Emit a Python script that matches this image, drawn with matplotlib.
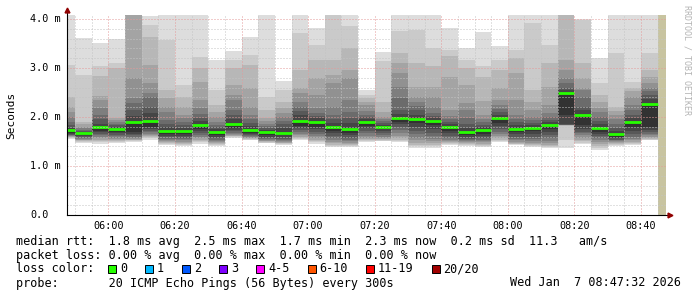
import matplotlib
matplotlib.use("Agg")
import matplotlib.pyplot as plt
from matplotlib import transforms
from matplotlib.patches import Rectangle

# graph time span and the part with no data yet
graph_start = "05:47:32"
graph_end = "08:47:32"
unknown_start = "08:45:00"

# end time of every 5 minute step
bar_end_times = [
    "05:50", "05:55", "06:00", "06:05", "06:10", "06:15", "06:20", "06:25", "06:30",
    "06:35", "06:40", "06:45", "06:50", "06:55", "07:00", "07:05", "07:10", "07:15",
    "07:20", "07:25", "07:30", "07:35", "07:40", "07:45", "07:50", "07:55", "08:00",
    "08:05", "08:10", "08:15", "08:20", "08:25", "08:30", "08:35", "08:40", "08:45",
]

# median rtt per step (ms)
median_ms = [
    1.73, 1.68, 1.80, 1.76, 1.89, 1.92, 1.72, 1.71, 1.84, 1.70, 1.85, 1.73,
    1.69, 1.68, 1.92, 1.90, 1.80, 1.75, 1.90, 1.80, 1.98, 1.96, 1.92, 1.80,
    1.69, 1.73, 1.97, 1.76, 1.78, 1.83, 2.48, 2.05, 1.78, 1.65, 1.90, 2.26,
]

# 20 sorted ping times per step (ms)
pings_ms = [
    [1.56, 1.58, 1.59, 1.60, 1.61, 1.62, 1.63, 1.64, 1.65, 1.67, 1.73, 1.78, 1.84, 1.90, 2.00, 2.11, 2.21, 2.41, 3.06, 4.40],
    [1.46, 1.48, 1.50, 1.52, 1.54, 1.56, 1.58, 1.60, 1.62, 1.64, 1.68, 1.70, 1.72, 1.74, 1.77, 1.80, 1.85, 1.90, 2.86, 3.61],
    [1.45, 1.48, 1.51, 1.54, 1.57, 1.60, 1.63, 1.66, 1.69, 1.72, 1.80, 1.86, 1.95, 2.05, 2.18, 2.35, 2.43, 2.84, 3.03, 3.50],
    [1.46, 1.48, 1.50, 1.53, 1.56, 1.58, 1.61, 1.64, 1.67, 1.70, 1.76, 1.80, 1.83, 1.86, 1.90, 1.93, 1.98, 3.00, 3.10, 3.60],
    [1.48, 1.50, 1.52, 1.54, 1.56, 1.58, 1.60, 1.63, 1.66, 1.70, 1.89, 2.02, 2.14, 2.28, 2.38, 2.79, 4.20, 4.30, 4.40, 4.60],
    [1.54, 1.57, 1.60, 1.62, 1.64, 1.66, 1.69, 1.72, 1.76, 1.80, 1.92, 2.08, 2.21, 2.40, 2.49, 2.69, 3.05, 3.64, 3.88, 4.05],
    [1.43, 1.45, 1.47, 1.49, 1.51, 1.53, 1.56, 1.59, 1.62, 1.66, 1.72, 1.80, 1.86, 1.94, 2.10, 2.21, 2.39, 2.55, 3.57, 4.30],
    [1.41, 1.43, 1.45, 1.47, 1.49, 1.52, 1.55, 1.58, 1.61, 1.65, 1.71, 1.78, 1.84, 1.90, 1.97, 2.04, 2.20, 2.41, 2.65, 4.30],
    [1.45, 1.48, 1.51, 1.54, 1.57, 1.60, 1.64, 1.68, 1.72, 1.76, 1.84, 1.92, 1.97, 2.06, 2.18, 2.35, 2.72, 3.00, 3.23, 4.30],
    [1.41, 1.43, 1.45, 1.47, 1.49, 1.51, 1.54, 1.57, 1.60, 1.64, 1.70, 1.76, 1.80, 1.84, 1.90, 2.00, 2.10, 2.24, 2.55, 3.16],
    [1.58, 1.60, 1.61, 1.62, 1.64, 1.66, 1.68, 1.71, 1.74, 1.78, 1.85, 1.96, 2.04, 2.14, 2.35, 2.45, 2.65, 3.00, 3.16, 3.35],
    [1.53, 1.54, 1.55, 1.57, 1.58, 1.60, 1.61, 1.63, 1.65, 1.68, 1.73, 1.82, 1.88, 1.96, 2.05, 2.21, 2.59, 3.06, 3.27, 3.64],
    [1.46, 1.47, 1.48, 1.50, 1.51, 1.53, 1.55, 1.57, 1.60, 1.64, 1.69, 1.74, 1.78, 1.82, 1.86, 1.92, 1.98, 2.14, 2.40, 4.30],
    [1.43, 1.44, 1.46, 1.47, 1.49, 1.51, 1.53, 1.56, 1.59, 1.63, 1.68, 1.78, 1.85, 1.92, 2.00, 2.08, 2.18, 2.30, 2.55, 2.73],
    [1.53, 1.55, 1.57, 1.60, 1.63, 1.66, 1.70, 1.74, 1.78, 1.82, 1.92, 2.05, 2.12, 2.21, 2.30, 2.49, 2.60, 2.96, 3.71, 4.30],
    [1.45, 1.48, 1.51, 1.54, 1.58, 1.62, 1.66, 1.70, 1.75, 1.80, 1.90, 1.97, 2.02, 2.08, 2.18, 2.45, 2.80, 3.16, 3.47, 3.81],
    [1.39, 1.41, 1.43, 1.46, 1.49, 1.53, 1.57, 1.62, 1.67, 1.72, 1.80, 1.88, 1.95, 2.05, 2.21, 2.70, 2.86, 3.16, 4.20, 4.40],
    [1.39, 1.41, 1.43, 1.45, 1.47, 1.50, 1.54, 1.58, 1.63, 1.68, 1.75, 1.88, 1.98, 2.10, 2.35, 2.80, 2.96, 3.40, 3.85, 4.30],
    [1.48, 1.50, 1.52, 1.55, 1.58, 1.62, 1.67, 1.72, 1.77, 1.82, 1.90, 1.96, 2.00, 2.04, 2.12, 2.24, 2.30, 2.38, 2.45, 2.55],
    [1.50, 1.51, 1.53, 1.55, 1.57, 1.60, 1.63, 1.67, 1.71, 1.75, 1.80, 1.84, 1.87, 1.91, 1.95, 2.00, 2.10, 2.31, 3.15, 3.33],
    [1.48, 1.50, 1.53, 1.57, 1.62, 1.68, 1.74, 1.80, 1.85, 1.90, 1.98, 2.06, 2.14, 2.39, 2.62, 2.90, 3.10, 3.30, 3.76, 4.30],
    [1.37, 1.40, 1.43, 1.47, 1.52, 1.58, 1.65, 1.72, 1.80, 1.88, 1.96, 2.05, 2.14, 2.22, 2.31, 2.40, 2.62, 3.10, 3.78, 4.30],
    [1.37, 1.40, 1.43, 1.46, 1.50, 1.55, 1.61, 1.68, 1.76, 1.84, 1.92, 1.98, 2.02, 2.08, 2.21, 2.40, 2.62, 3.03, 3.40, 4.30],
    [1.42, 1.44, 1.46, 1.48, 1.51, 1.54, 1.58, 1.62, 1.67, 1.72, 1.80, 1.86, 1.90, 1.96, 2.02, 2.14, 2.82, 3.25, 3.37, 3.81],
    [1.41, 1.42, 1.44, 1.46, 1.48, 1.50, 1.53, 1.56, 1.59, 1.63, 1.69, 1.78, 1.86, 1.98, 2.14, 2.28, 2.65, 3.00, 3.16, 3.40],
    [1.39, 1.41, 1.43, 1.45, 1.48, 1.51, 1.54, 1.58, 1.62, 1.66, 1.73, 1.80, 1.84, 1.89, 1.96, 2.04, 2.33, 2.82, 3.04, 3.73],
    [1.49, 1.51, 1.54, 1.57, 1.61, 1.65, 1.70, 1.76, 1.82, 1.88, 1.97, 2.05, 2.10, 2.16, 2.24, 2.35, 2.59, 2.96, 3.16, 3.45],
    [1.43, 1.44, 1.45, 1.47, 1.49, 1.52, 1.56, 1.60, 1.65, 1.70, 1.76, 1.84, 1.90, 1.96, 2.04, 2.35, 2.90, 3.20, 3.37, 4.30],
    [1.39, 1.40, 1.42, 1.44, 1.47, 1.51, 1.55, 1.60, 1.66, 1.72, 1.78, 1.84, 1.88, 1.93, 2.00, 2.14, 2.30, 2.55, 3.92, 4.30],
    [1.37, 1.38, 1.40, 1.42, 1.46, 1.51, 1.57, 1.63, 1.69, 1.75, 1.83, 1.90, 1.94, 2.00, 2.08, 2.24, 2.62, 3.10, 3.47, 4.30],
    [1.37, 1.53, 1.82, 1.83, 1.83, 1.84, 1.84, 1.84, 1.85, 2.04, 2.48, 2.55, 2.59, 2.70, 2.80, 2.96, 3.16, 4.20, 4.30, 4.40],
    [1.45, 1.47, 1.50, 1.54, 1.58, 1.63, 1.67, 1.70, 1.76, 1.84, 2.05, 2.14, 2.21, 2.40, 2.55, 2.59, 2.80, 3.10, 3.98, 4.00],
    [1.33, 1.37, 1.41, 1.45, 1.49, 1.53, 1.57, 1.61, 1.65, 1.70, 1.78, 1.86, 1.92, 2.00, 2.10, 2.18, 2.30, 2.45, 2.69, 3.20],
    [1.41, 1.42, 1.44, 1.46, 1.48, 1.50, 1.52, 1.54, 1.57, 1.60, 1.65, 1.72, 1.78, 1.85, 1.95, 2.04, 2.12, 2.21, 3.30, 4.30],
    [1.42, 1.44, 1.46, 1.49, 1.52, 1.56, 1.60, 1.65, 1.72, 1.80, 1.90, 1.98, 2.04, 2.14, 2.25, 2.40, 2.52, 2.60, 2.72, 4.30],
    [1.52, 1.54, 1.56, 1.58, 1.60, 1.63, 1.66, 1.70, 1.74, 1.80, 2.26, 2.36, 2.45, 2.52, 2.59, 2.70, 2.82, 2.96, 3.30, 4.30],
]

x_tick_labels = ["06:00", "06:20", "06:40", "07:00", "07:20", "07:40", "08:00", "08:20", "08:40"]
y_ticks = [0.0, 1.0, 2.0, 3.0, 4.0]
y_tick_labels = ["0.0", "1.0 m", "2.0 m", "3.0 m", "4.0 m"]

loss_labels = ["0", "1", "2", "3", "4-5", "6-10", "11-19", "20/20"]
loss_colors = ["#26ff00", "#00b8ff", "#0059ff", "#7e00ff", "#ff00ff", "#ff5500", "#ff0000", "#a10000"]

legend_lines = [
    "median rtt:  1.8 ms avg  2.5 ms max  1.7 ms min  2.3 ms now  0.2 ms sd  11.3   am/s",
    "packet loss: 0.00 % avg  0.00 % max  0.00 % min  0.00 % now",
    "loss color:",
    "probe:       20 ICMP Echo Pings (56 Bytes) every 300s",
]
stamp = "Wed Jan  7 08:47:32 2026"


def to_min(s):
    parts = [int(p) for p in s.split(":")]
    while len(parts) < 3:
        parts.append(0)
    return parts[0] * 60 + parts[1] + parts[2] / 60.0


W, H = 697, 297
mono = "DejaVu Sans Mono"

fig = plt.figure(figsize=(W / 100, H / 100), dpi=100)
fig.patch.set_facecolor("white")
ax = fig.add_axes([67 / W, 82 / H, 599 / W, 200 / H])

t0, t1 = to_min(graph_start), to_min(graph_end)
ends = [to_min(t) for t in bar_end_times]
lefts = [t0] + ends[:-1]
widths = [e - l for l, e in zip(lefts, ends)]

# smoke: band ii spans ping ii .. ping 21-ii, darker toward the middle
half = 10
for ii in range(1, half + 1):
    g = int(190 / half * (half - ii)) + 50
    col = "#%02x%02x%02x" % (g, g, g)
    lo = [p[ii - 1] for p in pings_ms]
    hi = [p[20 - ii] for p in pings_ms]
    ax.bar(lefts, [h - l for l, h in zip(lo, hi)], bottom=lo, width=widths,
           align="edge", color=col, linewidth=0, antialiased=False, zorder=1)

# median line
ax.hlines(median_ms, lefts, ends, colors=loss_colors[0], linewidth=2.0, zorder=2)

# no data yet
ax.axvspan(to_min(unknown_start), t1, color="#c8c4a0", linewidth=0, zorder=1)

ax.set_xlim(t0, t1)
ax.set_ylim(0, 4.08)

major_x = [to_min(t) for t in x_tick_labels]
minor_x = [m for m in range(int(t0) + 3, int(t1), 5) if m % 5 == 0 and m not in major_x]
ax.set_xticks(major_x)
ax.set_xticklabels(x_tick_labels, family=mono, fontsize=7.3)
ax.set_xticks(minor_x, minor=True)
ax.set_yticks(y_ticks)
ax.set_yticklabels([])
minor_y = [v / 10 for v in range(2, 41, 2) if v % 10 != 0]
ax.set_yticks(minor_y, minor=True)
ax.tick_params(which="both", length=0, pad=4)

ax.set_axisbelow(False)
ax.grid(which="minor", color="#c4c4c4", linestyle=(0, (1, 2)), linewidth=0.72)
ax.grid(which="major", color="#e49a9a", linestyle=(0, (1, 2)), linewidth=0.72)

for s in ax.spines.values():
    s.set_visible(False)

# axes with arrow heads
ax.plot([0, 1.0035], [0, 0], transform=ax.transAxes, color="black", lw=0.8, clip_on=False, zorder=4)
ax.plot([0, 0], [0, 1.02], transform=ax.transAxes, color="black", lw=0.8, clip_on=False, zorder=4)
ax.plot([1.0067], [0], marker=">", ms=3.5, color="#900000", transform=ax.transAxes, clip_on=False, zorder=5)
ax.plot([0], [1.025], marker="^", ms=3.5, color="#900000", transform=ax.transAxes, clip_on=False, zorder=5)

# y tick labels left aligned like rrdtool
ytr = transforms.blended_transform_factory(fig.transFigure, ax.transData)
for v, lab in zip(y_ticks, y_tick_labels):
    ax.text(30 / W, v, lab, transform=ytr, family=mono, fontsize=7.3, ha="left", va="center")

fig.text(11 / W, 1 - 115 / H, "Seconds", rotation=90, family=mono, fontsize=8,
         ha="center", va="center")
fig.text(687 / W, 1 - 60 / H, "RRDTOOL / TOBI OETIKER", rotation=270, family=mono,
         fontsize=6, color="#b4b4b4", ha="center", va="center")

# legend block
line_y = [241, 255, 269, 283]
for txt, y in zip(legend_lines, line_y):
    fig.text(16 / W, 1 - y / H, txt, family=mono, fontsize=8.5, ha="left", va="center")
fig.text(681 / W, 1 - line_y[3] / H, stamp, family=mono, fontsize=8.5, ha="right", va="center")

cw = 7.1
x = 108.0
for lab, col in zip(loss_labels, loss_colors):
    fig.add_artist(Rectangle((x / W, 1 - (line_y[2] + 4) / H), 8 / W, 8 / H,
                             transform=fig.transFigure, facecolor=col,
                             edgecolor="black", linewidth=0.7))
    fig.text((x + 12) / W, 1 - line_y[2] / H, lab, family=mono, fontsize=8.5,
             ha="left", va="center")
    x += 12 + len(lab) * cw + 18

fig.savefig("out.png", dpi=100)
